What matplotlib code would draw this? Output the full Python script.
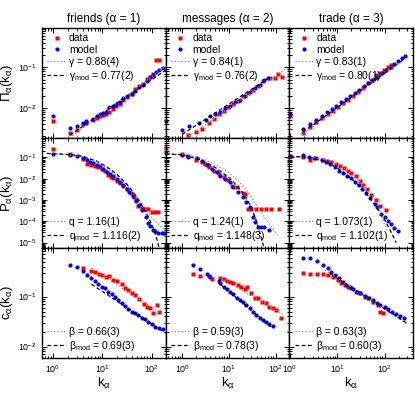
import matplotlib
matplotlib.use("Agg")
import matplotlib.pyplot as plt

plt.rcParams.update({
    "font.family": ["Liberation Sans", "DejaVu Sans"],
    "mathtext.fontset": "custom",
    "mathtext.rm": "Liberation Sans",
    "mathtext.it": "Liberation Sans:italic",
    "mathtext.bf": "Liberation Sans:bold",
})

titles = ["friends (α = 1)", "messages (α = 2)", "trade (α = 3)"]

# ---- row 1: Pi_alpha(k_alpha) ----
pi_data_k = [
    [1, 2.2, 3.0, 4.0, 4.6, 6.3, 7.6, 8.9, 10.4, 11.8, 13.7, 16.1, 18.7, 22.6, 26.4, 31.7, 38.8, 45.4, 55.5, 64.9, 78.2, 91.2, 106, 120, 141],
    [1.3, 1.94, 2.7, 3.7, 4.7, 6.0, 7.7, 9.8, 12.4, 15.8, 20.2, 25.7, 32.8, 41.8, 53.2, 75, 97, 112, 135],
    [1, 1.88, 2.64, 3.53, 4.72, 6.31, 8.04, 10.3, 13.1, 16.6, 21.2, 27.0, 34.4, 43.9, 53.2, 64.7, 78.5, 95.3, 116, 134],
]
pi_data = [
    [0.0047, 0.0024, 0.0028, 0.0039, 0.0043, 0.0049, 0.0057, 0.0061, 0.0066, 0.0070, 0.0079, 0.0093, 0.0108, 0.0124, 0.0158, 0.0181, 0.022, 0.029, 0.035, 0.039, 0.052, 0.057, 0.069, 0.15, 0.15],
    [0.0021, 0.0025, 0.0030, 0.0043, 0.0052, 0.0070, 0.0084, 0.0102, 0.0124, 0.015, 0.0192, 0.0233, 0.0282, 0.0355, 0.0447, 0.056, 0.054, 0.068, 0.058],
    [0.0063, 0.0024, 0.0034, 0.0045, 0.0056, 0.0071, 0.0084, 0.0106, 0.013, 0.0158, 0.020, 0.025, 0.0316, 0.040, 0.050, 0.063, 0.074, 0.087, 0.100, 0.113],
]
pi_model_k = [
    [1, 2.2, 3.0, 4.0, 4.6, 6.3, 7.6, 8.9, 10.4, 11.8, 13.7, 16.1, 18.7, 22.6, 26.4, 31.7, 38.8, 45.4, 55.5, 64.9, 78.2, 91.2, 106, 120, 141, 169],
    [0.45, 1.0, 1.4, 2.3, 3.15, 3.9, 5.1, 6.5, 8.3, 10.6, 13.5, 17.2, 21.9, 27.9, 35.6, 45.4, 57.8, 67.9],
    [1, 1.88, 2.64, 3.53, 4.72, 6.01, 7.66, 9.3, 11.8, 15.1, 18.3, 23.4, 28.4, 36.1, 43.9, 55.9, 67.9, 86.5, 105, 134, 162, 197, 239, 275],
]
pi_model = [
    [0.0063, 0.0032, 0.0035, 0.0041, 0.0047, 0.0054, 0.0061, 0.0068, 0.0074, 0.0079, 0.0102, 0.0112, 0.0121, 0.0141, 0.0171, 0.0192, 0.022, 0.0266, 0.0322, 0.0369, 0.0447, 0.057, 0.0656, 0.0764, 0.084, 0.096],
    [0.0048, 0.0028, 0.0035, 0.0043, 0.0049, 0.0061, 0.0070, 0.0079, 0.0096, 0.0112, 0.0136, 0.0158, 0.020, 0.0242, 0.0304, 0.0369, 0.0473, 0.054],
    [0.0071, 0.0030, 0.0040, 0.0050, 0.0063, 0.0079, 0.0094, 0.0112, 0.0141, 0.0168, 0.020, 0.0237, 0.0282, 0.0345, 0.041, 0.050, 0.058, 0.071, 0.084, 0.103, 0.119, 0.141, 0.168, 0.188],
]
pi_fit_k = [[2.2, 190], [1.2, 178], [1.8, 250]]
pi_fit = [[0.0018, 0.106], [0.0018, 0.096], [0.0021, 0.15]]
pi_fitmod_k = [[2.2, 190], [1.0, 68], [1.9, 250]]
pi_fitmod = [[0.0021, 0.085], [0.0022, 0.052], [0.0025, 0.155]]
gamma = ["0.88(4)", "0.84(1)", "0.83(1)"]
gamma_mod = ["0.77(2)", "0.76(2)", "0.80(1)"]

# ---- row 2: P_alpha(k_alpha) ----
p_data_k = [
    [1, 2.2, 4.1, 4.9, 5.9, 7.0, 8.2, 9.6, 11.3, 13.2, 14.8, 16.6, 19.3, 22.6, 26.4, 32, 37, 43, 47.5, 53, 62, 72, 85, 99, 115, 134],
    [0.45, 1.0, 1.3, 2.0, 2.6, 3.0, 3.7, 4.7, 6.0, 7.7, 9.8, 11.5, 14.6, 20.2, 21.9, 25.7, 30.3, 38.5, 49.1, 62.5, 79.7, 119],
    [1, 1.9, 2.64, 3.53, 5.0, 6.1, 7.55, 9.3, 11.3, 13.7, 16.9, 19.9, 24.5, 29.8, 34.9, 42.4, 52.5, 64.7, 78.5, 109],
]
p_data = [
    [0.245, 0.14, 0.084, 0.05, 0.042, 0.040, 0.036, 0.030, 0.024, 0.0152, 0.0117, 0.0105, 0.0082, 0.0062, 0.0048, 0.0032, 0.0022, 0.0014, 9.7e-4, 5.3e-4, 4.2e-4, 4.0e-4, 3.7e-4, 2.8e-4, 2.8e-4, 2.8e-4],
    [0.29, 0.153, 0.12, 0.075, 0.059, 0.049, 0.034, 0.024, 0.0168, 0.0117, 0.0089, 0.0048, 0.0040, 0.0021, 0.0020, 4.0e-4, 4.0e-4, 3.6e-4, 3.6e-4, 3.6e-4, 3.6e-4, 3.6e-4],
    [0.111, 0.10, 0.078, 0.090, 0.078, 0.070, 0.058, 0.049, 0.038, 0.031, 0.024, 0.0188, 0.0131, 0.0082, 0.0052, 0.0034, 0.0018, 9.7e-4, 5.2e-4, 3.5e-4],
]
p_model_k = [
    [1, 2.2, 3.0, 4.1, 4.8, 5.6, 6.5, 7.6, 8.9, 10.4, 12.1, 14.2, 16.6, 19.3, 22.6, 26.4, 30.8, 34.8, 40.7, 47.5, 55.5, 61.8, 75.6, 81.7, 91.2, 103, 115, 134, 157, 175],
    [0.45, 1.0, 1.3, 2.1, 2.7, 3.4, 4.35, 5.5, 6.5, 8.3, 10.6, 12.4, 15.8, 20.2, 23.7, 27.9, 32.8, 35.6, 41.8, 49.1, 57.8, 73.6],
    [1, 1.9, 2.55, 3.2, 4.65, 5.9, 7.2, 8.9, 10.9, 13.2, 16.1, 19.9, 23.4, 28.8, 34.0, 41.2, 50, 61.5, 68.9, 85.3, 100, 117, 138, 162, 191],
]
p_model = [
    [0.144, 0.129, 0.111, 0.0898, 0.078, 0.063, 0.055, 0.0443, 0.0381, 0.0288, 0.0216, 0.0169, 0.0131, 0.0099, 0.0069, 0.0052, 0.0034, 0.0024, 0.0015, 8.7e-4, 5.7e-4, 3.3e-4, 1.6e-4, 8.0e-5, 6.2e-5, 3.9e-5, 3.4e-5, 2.9e-5, 2.8e-5, 2.7e-5],
    [0.17, 0.129, 0.108, 0.093, 0.070, 0.046, 0.029, 0.020, 0.014, 0.010, 0.0069, 0.0040, 0.0024, 0.00137, 8.1e-4, 4.7e-4, 1.6e-4, 9.5e-5, 5.5e-5, 5.2e-5, 5.5e-5, 3.9e-5],
    [0.12, 0.129, 0.10, 0.090, 0.078, 0.063, 0.049, 0.034, 0.024, 0.0188, 0.0141, 0.0105, 0.0074, 0.0052, 0.0034, 0.0022, 0.00124, 6.8e-4, 4.7e-4, 2.3e-4, 1.6e-4, 1.0e-4, 7.2e-5, 4.7e-5, 3.5e-5],
]
p_fit_k = [
    [0.75, 1, 4.1, 12.1, 30.8, 60, 91, 134, 183],
    [0.44, 1.0, 2.3, 5.1, 9.8, 15.8, 25.7, 41.8, 67.9, 110],
    [1, 3, 6, 10, 17, 25, 35, 57, 78.5, 100, 109],
]
p_fit = [
    [0.155, 0.15, 0.111, 0.034, 0.0052, 8.1e-4, 1.9e-4, 7.9e-5, 3.9e-5],
    [0.153, 0.144, 0.1, 0.046, 0.020, 0.0082, 0.0024, 4.7e-4, 9.5e-5, 2.3e-5],
    [0.115, 0.098, 0.075, 0.048, 0.024, 0.011, 0.0048, 0.00166, 3.5e-4, 7e-5, 3.9e-5],
]
p_fitmod_k = [
    [0.75, 1, 2.2, 4.1, 7.6, 12.1, 19.3, 30.8, 43, 60, 85, 107, 122, 141],
    [0.44, 1.0, 2.3, 5.1, 9.8, 15.8, 21.9, 30.3, 38.5, 49.1, 57.8],
    [1, 3, 6, 10, 17, 25, 35, 50, 70, 100, 130, 160, 176],
]
p_fitmod = [
    [0.155, 0.15, 0.138, 0.111, 0.068, 0.037, 0.0169, 0.0058, 0.0022, 6.8e-4, 1.6e-4, 4.7e-5, 1.9e-5, 5.5e-6],
    [0.144, 0.134, 0.084, 0.034, 0.0117, 0.0040, 0.00166, 4.7e-4, 1.1e-4, 1.9e-5, 4.6e-6],
    [0.115, 0.095, 0.062, 0.032, 0.0135, 0.0065, 0.003, 0.0012, 4.3e-4, 1.2e-4, 4e-5, 1.6e-5, 1.0e-5],
]
q = ["1.16(1)", "1.24(1)", "1.073(1)"]
q_mod = ["1.116(2)", "1.148(3)", "1.102(1)"]

# ---- row 3: c_alpha(k_alpha) ----
c_data_k = [
    [4.1, 6.0, 7.0, 8.4, 10, 11.9, 13.8, 16.1, 19.7, 24.4, 28.5, 33.3, 38.8, 45.4, 55.7, 68, 79, 92, 107, 125, 141],
    [1.7, 2.35, 3.7, 4.35, 6.5, 7.7, 9.0, 10.6, 12.4, 15.3, 18.0, 21.9, 24.9, 30.2, 35.6, 41.8, 50.7, 62.5, 73.6, 86.5, 101, 134],
    [1.9, 2.64, 3.65, 5.0, 6.4, 8.2, 10.4, 12.2, 14.4, 16.9, 19.9, 25.4, 29.8, 37.9, 44.6, 56.7, 72.3, 78.5, 92],
]
c_data = [
    [0.37, 0.33, 0.316, 0.29, 0.27, 0.25, 0.26, 0.216, 0.206, 0.177, 0.151, 0.136, 0.117, 0.108, 0.090, 0.070, 0.063, 0.0586, 0.0466, 0.068, 0.050],
    [0.29, 0.26, 0.26, 0.226, 0.233, 0.223, 0.209, 0.20, 0.185, 0.171, 0.158, 0.143, 0.158, 0.117, 0.095, 0.093, 0.079, 0.074, 0.063, 0.060, 0.054, 0.037],
    [0.30, 0.29, 0.29, 0.29, 0.27, 0.25, 0.216, 0.185, 0.171, 0.158, 0.151, 0.126, 0.12, 0.10, 0.093, 0.079, 0.068, 0.050, 0.0466],
]
c_model_k = [
    [2.2, 3.0, 4.0, 4.8, 6.0, 7.0, 8.2, 9.6, 11.2, 13.1, 15.3, 17.9, 20.9, 24.4, 28.5, 33.3, 38.8, 45.4, 53, 61.8, 72.2, 84.3, 98.5, 115, 141, 169],
    [1.7, 2.35, 3.4, 4.0, 6.0, 6.5, 7.7, 9.0, 10.6, 12.4, 14.6, 17.2, 20.2, 23.7, 27.9, 32.8, 38.5, 45.4, 53.2, 62.5, 73.6, 86.5],
    [1.9, 2.64, 3.65, 5.0, 6.4, 7.5, 8.9, 10.9, 13.3, 15.6, 18.3, 21.5, 26.2, 30.8, 37.9, 46.8, 56.7, 69, 81, 100, 117, 145, 176, 214, 264],
]
c_model = [
    [0.43, 0.40, 0.33, 0.27, 0.233, 0.206, 0.177, 0.158, 0.147, 0.126, 0.112, 0.10, 0.086, 0.074, 0.066, 0.057, 0.050, 0.0466, 0.043, 0.038, 0.0358, 0.0316, 0.028, 0.025, 0.024, 0.0226],
    [0.43, 0.36, 0.29, 0.25, 0.21, 0.185, 0.158, 0.143, 0.126, 0.112, 0.095, 0.086, 0.077, 0.068, 0.0586, 0.050, 0.043, 0.038, 0.034, 0.031, 0.028, 0.0263],
    [0.59, 0.59, 0.525, 0.43, 0.37, 0.316, 0.27, 0.233, 0.20, 0.171, 0.154, 0.14, 0.126, 0.117, 0.103, 0.093, 0.086, 0.076, 0.068, 0.061, 0.056, 0.050, 0.045, 0.041, 0.037],
]
c_fit_k = [[6, 150], [6, 140], [5.5, 286]]
c_fit = [[0.37, 0.047], [0.25, 0.045], [0.34, 0.029]]
c_fitmod_k = [[6, 190], [6.5, 86.5], [7, 286]]
c_fitmod = [[0.177, 0.0185], [0.177, 0.0233], [0.29, 0.030]]
beta = ["0.66(3)", "0.59(3)", "0.63(3)"]
beta_mod = ["0.69(3)", "0.78(3)", "0.60(3)"]

xlims = [(0.6, 190), (0.44, 198), (0.97, 400)]
ylims = [(1.78e-3, 0.944), (5.6e-6, 0.82), (5.9e-3, 0.94)]

RED, BLUE = "#ff0000", "#0000ff"

fig, axes = plt.subplots(3, 3, figsize=(4.15, 3.96), dpi=100, sharex="col", sharey="row",
                         gridspec_kw=dict(wspace=0, hspace=0))
fig.subplots_adjust(left=42 / 415, right=413 / 415, top=1 - 28 / 396, bottom=1 - 358 / 396)

rows = [
    (pi_data_k, pi_data, pi_model_k, pi_model, pi_fit_k, pi_fit, pi_fitmod_k, pi_fitmod, "γ", gamma, gamma_mod),
    (p_data_k, p_data, p_model_k, p_model, p_fit_k, p_fit, p_fitmod_k, p_fitmod, "q", q, q_mod),
    (c_data_k, c_data, c_model_k, c_model, c_fit_k, c_fit, c_fitmod_k, c_fitmod, "β", beta, beta_mod),
]
ylabels = [r"Π$_{\mathrm{α}}$(k$_{\mathrm{α}}$)", r"P$_{\mathrm{α}}$(k$_{\mathrm{α}}$)",
           r"c$_{\mathrm{α}}$(k$_{\mathrm{α}}$)"]

leg_kw = dict(fontsize=7.5, frameon=False, handlelength=1.8, handletextpad=0.3,
              labelspacing=0.18, borderaxespad=0.3, borderpad=0.2)

for i, (dk, dv, mk, mv, fk, fv, gk, gv, sym, par, par_mod) in enumerate(rows):
    for j in range(3):
        ax = axes[i, j]
        ax.set_xscale("log"); ax.set_yscale("log")
        hd, = ax.plot(dk[j], dv[j], "s", color=RED, ms=2.6, mec="none", clip_on=False, zorder=2)
        hm, = ax.plot(mk[j], mv[j], "o", color=BLUE, ms=3.0, mec="none", clip_on=False, zorder=2)
        hf, = ax.plot(fk[j], fv[j], ":", color="0.55", lw=0.9, zorder=3)
        hg, = ax.plot(gk[j], gv[j], "--", color="black", lw=0.9, dashes=(3, 2), zorder=3)
        lab_f = f"{sym} = {par[j]}"
        lab_g = sym + r"$_{\mathrm{mod}}$" + f" = {par_mod[j]}"
        if i == 0:
            ax.legend([hd, hm, hf, hg], ["data", "model", lab_f, lab_g], loc="upper left", **leg_kw)
        else:
            ax.legend([hf, hg], [lab_f, lab_g], loc="lower left", **leg_kw)
        ax.set_xlim(*xlims[j]); ax.set_ylim(*ylims[i])
        ax.tick_params(which="both", direction="in", top=True, right=True, labelsize=6.4, width=0.7)
        ax.tick_params(which="major", length=3.5)
        ax.tick_params(which="minor", length=1.8)
        for s in ax.spines.values():
            s.set_linewidth(1.0)
        if i == 0:
            ax.set_title(titles[j], fontsize=8.5, pad=4.5)
        if i == 2:
            ax.set_xlabel(r"k$_{\mathrm{α}}$", fontsize=9.5)
            ax.xaxis.set_label_coords(0.5, -0.165)
        if j == 0:
            ax.set_ylabel(ylabels[i], fontsize=9.5)
            ax.yaxis.set_label_coords(-0.22, 0.5)

fig.savefig("out.png", dpi=100, facecolor="white")
